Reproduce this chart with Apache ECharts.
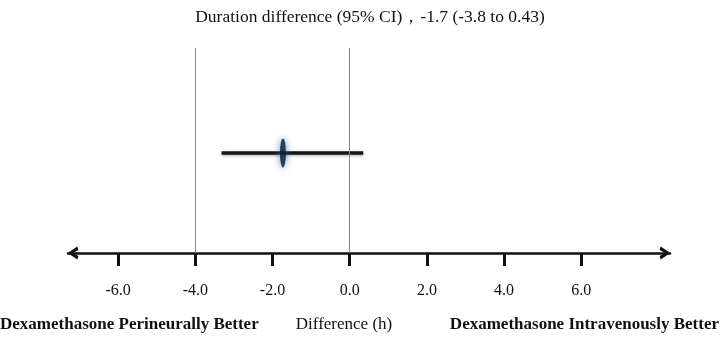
<!DOCTYPE html>
<html>
<head>
<meta charset="utf-8">
<style>
  html, body { margin: 0; padding: 0; background: #fff; }
  #chart { width: 721px; height: 343px; }
</style>
<script src="https://cdn.jsdelivr.net/npm/echarts@6/dist/echarts.min.js"></script>
</head>
<body>
<div id="chart"></div>
<script>
// values
var estimate = -1.73;          // point estimate (h)
var ciLow = -3.32;             // drawn lower end of the bar
var ciHigh = 0.35;             // drawn upper end of the bar
var refLines = [-4, 0];        // thin grey vertical lines
var tickValues = [-6, -4, -2, 0, 2, 4, 6];
var titleText = 'Duration difference (95% CI)\uff0c-1.7 (-3.8 to 0.43)';
var leftLabel = 'Dexamethasone Perineurally Better';
var midLabel = 'Difference (h)';
var rightLabel = 'Dexamethasone Intravenously Better';

var rowY = 0.488;
var serif = '"Liberation Serif", "Times New Roman", serif';
// open chevron, drawn pointing up; echarts turns it along the axis
var chevron = 'path://M6,0 L12,9 L8.8,10 L6,5 L3.2,10 L0,9 Z';

var myChart = echarts.init(document.getElementById('chart'));

myChart.setOption({
    animation: false,
    title: [
        {
            text: titleText, left: 370, top: 8, textAlign: 'center', padding: 0,
            textStyle: { fontFamily: serif, fontSize: 17.5, fontWeight: 'normal', color: '#111' }
        },
        {
            text: leftLabel, left: 0, top: 316, padding: 0,
            textStyle: { fontFamily: serif, fontSize: 17, fontWeight: 'bold', color: '#111' }
        },
        {
            text: midLabel, left: 344, top: 316, textAlign: 'center', padding: 0,
            textStyle: { fontFamily: serif, fontSize: 17, fontWeight: 'normal', color: '#111' }
        },
        {
            text: rightLabel, right: 2, top: 316, padding: 0,
            textStyle: { fontFamily: serif, fontSize: 17, fontWeight: 'bold', color: '#111' }
        }
    ],
    grid: { left: 68, right: 51, top: 48, bottom: 90 },
    xAxis: {
        type: 'value',
        min: -7.3,
        max: 8.3,
        splitLine: { show: false },
        axisLine: {
            onZero: false,
            symbol: [chevron, chevron],
            symbolSize: [13, 11],
            symbolOffset: [5, -5],
            lineStyle: { color: '#111', width: 2.5 }
        },
        axisTick: {
            customValues: tickValues,
            length: 13,
            lineStyle: { color: '#111', width: 3 }
        },
        axisLabel: {
            customValues: tickValues,
            margin: 30,
            fontFamily: serif,
            fontSize: 16,
            color: '#111',
            formatter: function (v) { return v.toFixed(1); }
        }
    },
    yAxis: { type: 'value', min: 0, max: 1, show: false },
    series: [
        {
            type: 'line',
            data: [[refLines[0], 0]],
            symbol: 'none',
            lineStyle: { opacity: 0 },
            silent: true,
            markLine: {
                symbol: 'none',
                silent: true,
                label: { show: false },
                lineStyle: { color: '#888', width: 1, type: 'solid' },
                data: refLines.map(function (v) { return { xAxis: v }; })
            }
        },
        {
            type: 'line',
            data: [[ciLow, rowY], [ciHigh, rowY]],
            symbol: 'none',
            lineStyle: {
                color: '#151515', width: 3.5,
                shadowColor: 'rgba(0,0,0,0.35)', shadowBlur: 3, shadowOffsetY: 1
            }
        },
        {
            type: 'scatter',
            data: [[estimate, rowY]],
            symbol: 'circle',
            symbolSize: [6, 29],
            itemStyle: {
                color: '#0b1a2b',
                shadowColor: 'rgba(30,110,190,1)',
                shadowBlur: 7
            },
            z: 5
        }
    ]
});
</script>
</body>
</html>
